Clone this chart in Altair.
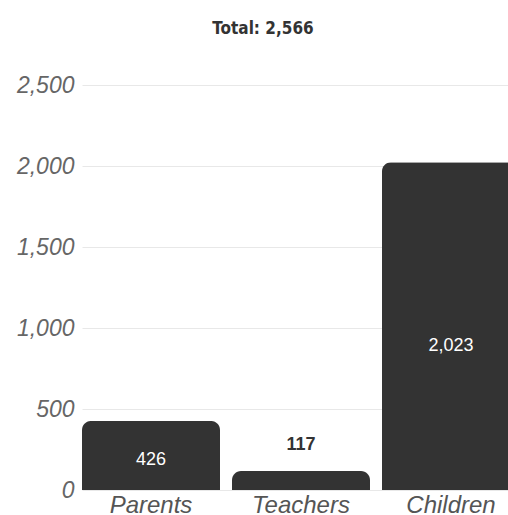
import altair as alt
import pandas as pd

categories = ["Parents", "Teachers", "Children"]
values = [426, 117, 2023]
inside = [True, False, True]
title_text = "Total: 2,566"

df = pd.DataFrame({"cat": categories, "val": values, "inside": inside})

x = alt.X("cat:N", sort=categories,
          scale=alt.Scale(range=[0, 438], paddingInner=0.08, paddingOuter=0),
          axis=alt.Axis(title=None, labelAngle=0, labelFontSize=24, labelFont="Liberation Sans",
                        labelFontStyle="italic", labelColor="#555555", ticks=False, domain=False,
                        labelPadding=3))
y_scale = alt.Scale(domain=[0, 2500], nice=False)

bars = alt.Chart(df).mark_bar(color="#333333", cornerRadiusTopLeft=9, cornerRadiusTopRight=9).encode(
    x=x,
    y=alt.Y("val:Q", scale=y_scale,
            axis=alt.Axis(title=None, values=[0, 500, 1000, 1500, 2000, 2500], format=",d",
                          labelFontSize=23, labelFont="Liberation Sans", labelFontStyle="italic",
                          labelColor="#666666", ticks=False, domain=False, labelPadding=8,
                          gridColor="#e8e8e8", gridWidth=1)),
)

in_labels = alt.Chart(df).transform_filter("datum.inside").transform_calculate(
    pos="datum.val * 0.44"
).mark_text(color="white", fontSize=18, font="Liberation Sans", baseline="middle").encode(
    x=alt.X("cat:N", sort=categories), y=alt.Y("pos:Q", scale=y_scale), text=alt.Text("val:Q", format=",")
)

out_labels = alt.Chart(df).transform_filter("!datum.inside").mark_text(
    color="#333333", fontSize=18, fontWeight="bold", font="Liberation Sans", baseline="middle", dy=-26
).encode(
    x=alt.X("cat:N", sort=categories), y=alt.Y("val:Q", scale=y_scale), text=alt.Text("val:Q", format=",")
)

chart = alt.layer(bars, in_labels, out_labels).properties(
    width=426, height=405,
    autosize=alt.AutoSizeParams(type="none"),
    padding={"left": 82, "top": 85, "right": 0, "bottom": 25},
    title=alt.TitleParams(title_text, font="'Liberation Sans Narrow', 'DejaVu Sans Condensed', 'Roboto Condensed', sans-serif",
                          fontSize=17, fontWeight="bold",
                          color="#333333", anchor="middle", dx=-32, offset=36),
).configure_view(stroke=None)

chart.save("out.html", embed_options={"renderer": "svg", "actions": False})
